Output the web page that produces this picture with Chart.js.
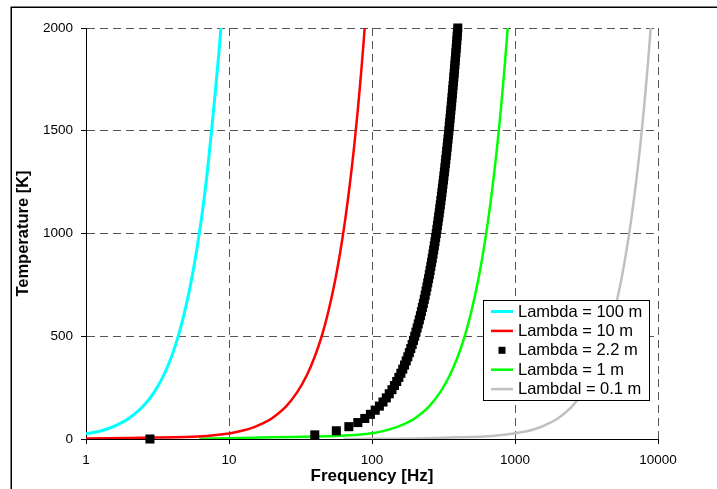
<!DOCTYPE html>
<html>
<head>
<meta charset="utf-8">
<title>Temperature vs Frequency</title>
<script src="https://cdn.jsdelivr.net/npm/chart.js@4.4.0/dist/chart.umd.min.js"></script>
<style>
    html, body { margin: 0; padding: 0; background: #ffffff; }
    #chart { display: block; }
</style>
</head>
<body>
<canvas id="chart" width="717" height="489"></canvas>
<script>
// Temperature vs frequency curves for several wavelengths (log frequency axis)

// Axis ticks
const freqTicks = [1, 10, 100, 1000, 10000];
const tempTicks = [0, 500, 1000, 1500, 2000];

// Lambda = 100 m
const lambda100Freq = [1, 1.25, 1.5, 1.75, 2, 2.5, 3, 3.5, 4, 4.5, 5, 5.5, 6, 6.5, 7, 7.5, 8, 8.5, 8.78];
const lambda100Temp = [26, 38, 56, 77, 101, 158, 228, 311, 408, 520, 645, 784, 937, 1100, 1280, 1480, 1680, 1880, 2000];

// Lambda = 10 m
const lambda10Freq = [1, 2, 3, 5, 7, 10, 12.5, 15, 17.5, 20, 25, 30, 35, 40, 45, 50, 55, 60, 65, 70, 75, 80, 85, 88.9];
const lambda10Temp = [3, 5, 7, 10, 15, 27, 41, 58, 78, 101, 158, 228, 310, 405, 512, 633, 765, 911, 1069, 1240, 1423, 1619, 1828, 2000];

// Lambda = 2.2 m (measured points)
const lambda22Freq = [
    2.8, 39.8, 56.3, 68.9, 79.6, 89.0, 97.5, 105.3, 112.6, 119.4, 125.9,
    132.0, 137.9, 143.5, 148.9, 154.1, 159.2, 164.1, 168.9, 173.5, 178.0,
    182.4, 186.7, 190.9, 195.0, 199.0, 202.9, 206.8, 210.6, 214.3, 218.0,
    221.6, 225.1, 228.6, 232.1, 235.5, 238.8, 242.1, 245.3, 248.6, 251.7,
    254.8, 257.9, 261.0, 264.0, 267.0, 269.9, 272.9, 275.7, 278.6, 281.4,
    284.2, 287.0, 289.7, 292.5, 295.2, 297.8, 300.5, 303.1, 305.7, 308.3,
    310.8, 313.4, 315.9, 318.4, 320.9, 323.3, 325.8, 328.2, 330.6, 333.0,
    335.4, 337.7, 340.1, 342.4, 344.7, 347.0, 349.2, 351.5, 353.8, 356.0,
    358.2, 360.4, 362.6, 364.8, 366.9, 369.1, 371.2, 373.4, 375.5, 377.6,
    379.7, 381.7, 383.8, 385.9, 387.9, 390.0, 392.0, 394.0, 396.0, 398.0
];
const lambda22Temp = [
    0, 20, 40, 60, 80, 100, 120, 140, 160, 180, 200,
    220, 240, 260, 280, 300, 320, 340, 360, 380, 400,
    420, 440, 460, 480, 500, 520, 540, 560, 580, 600,
    620, 640, 660, 680, 700, 720, 740, 760, 780, 800,
    820, 840, 860, 880, 900, 920, 940, 960, 980, 1000,
    1020, 1040, 1060, 1080, 1100, 1120, 1140, 1160, 1180, 1200,
    1220, 1240, 1260, 1280, 1300, 1320, 1340, 1360, 1380, 1400,
    1420, 1440, 1460, 1480, 1500, 1520, 1540, 1560, 1580, 1600,
    1620, 1640, 1660, 1680, 1700, 1720, 1740, 1760, 1780, 1800,
    1820, 1840, 1860, 1880, 1900, 1920, 1940, 1960, 1980, 2000
];

// Lambda = 1 m
const lambda1Freq = [6.2, 10, 20, 40, 60, 80, 100, 125, 150, 175, 200, 250, 300, 350, 400, 450, 500, 550, 600, 650, 700, 750, 800, 850, 889];
const lambda1Temp = [1, 4, 8, 12, 16, 21, 28, 42, 59, 78, 101, 158, 228, 310, 405, 512, 633, 765, 911, 1069, 1240, 1423, 1619, 1828, 2000];

// Lambda = 0.1 m
const lambda01Freq = [63, 100, 200, 400, 700, 1000, 1250, 1500, 1750, 2000, 2500, 3000, 3500, 4000, 4500, 5000, 5500, 6000, 6500, 7000, 7500, 8000, 8500, 8890];
const lambda01Temp = [0, 1, 3, 8, 15, 28, 40, 57, 78, 101, 158, 228, 310, 405, 512, 633, 765, 911, 1069, 1240, 1423, 1619, 1828, 2000];

const seriesLabels = ['Lambda = 100 m', 'Lambda = 10 m', 'Lambda = 2.2 m', 'Lambda = 1 m', 'Lambdal = 0.1 m'];

function toPoints(xs, ys) {
    return xs.map((x, i) => ({ x: x, y: ys[i] }));
}

const fontFamily = '"Liberation Sans", Arial, Helvetica, sans-serif';

// Outer frame around the whole chart
const framePlugin = {
    id: 'frame',
    afterDraw(chart) {
        const ctx = chart.ctx;
        ctx.save();
        ctx.strokeStyle = '#000000';
        ctx.lineWidth = 1.5;
        ctx.strokeRect(11.25, 7.25, 900, 700);
        ctx.restore();
    }
};

// Boxed legend placed inside the plot area (lower right)
const boxLegendPlugin = {
    id: 'boxLegend',
    afterDraw(chart) {
        const ctx = chart.ctx;
        const left = 483.5, top = 300.5, width = 166, height = 100;
        const rowStart = 311.5, rowStep = 19.4;
        ctx.save();
        ctx.fillStyle = '#ffffff';
        ctx.fillRect(left, top, width, height);
        ctx.strokeStyle = '#000000';
        ctx.lineWidth = 1;
        ctx.strokeRect(left, top, width, height);
        ctx.font = '16.5px ' + fontFamily;
        ctx.textBaseline = 'middle';
        ctx.textAlign = 'left';
        chart.data.datasets.forEach((ds, i) => {
            const y = rowStart + i * rowStep;
            if (ds.showLine) {
                ctx.strokeStyle = ds.borderColor;
                ctx.lineWidth = ds.borderWidth;
                ctx.beginPath();
                ctx.moveTo(491, y);
                ctx.lineTo(513, y);
                ctx.stroke();
            } else {
                ctx.fillStyle = ds.backgroundColor;
                ctx.fillRect(498.5, y - 3.5, 7, 7);
            }
            ctx.fillStyle = '#000000';
            ctx.fillText(ds.label, 518, y + 0.5);
        });
        ctx.restore();
    }
};

const ctx = document.getElementById('chart').getContext('2d');

new Chart(ctx, {
    type: 'scatter',
    data: {
        datasets: [
            {
                label: seriesLabels[0],
                data: toPoints(lambda100Freq, lambda100Temp),
                showLine: true,
                borderColor: '#00FFFF',
                backgroundColor: '#00FFFF',
                borderWidth: 3,
                pointRadius: 0,
                tension: 0.3,
                order: 1
            },
            {
                label: seriesLabels[1],
                data: toPoints(lambda10Freq, lambda10Temp),
                showLine: true,
                borderColor: '#FF0000',
                backgroundColor: '#FF0000',
                borderWidth: 2.5,
                pointRadius: 0,
                tension: 0.3,
                order: 2
            },
            {
                label: seriesLabels[2],
                data: toPoints(lambda22Freq, lambda22Temp),
                showLine: false,
                backgroundColor: '#000000',
                borderColor: '#000000',
                borderWidth: 0,
                pointStyle: 'rect',
                pointRadius: 6.4,
                pointHoverRadius: 6.4,
                clip: false,
                order: 0
            },
            {
                label: seriesLabels[3],
                data: toPoints(lambda1Freq, lambda1Temp),
                showLine: true,
                borderColor: '#00FF00',
                backgroundColor: '#00FF00',
                borderWidth: 2.5,
                pointRadius: 0,
                tension: 0.3,
                order: 3
            },
            {
                label: seriesLabels[4],
                data: toPoints(lambda01Freq, lambda01Temp),
                showLine: true,
                borderColor: '#C0C0C0',
                backgroundColor: '#C0C0C0',
                borderWidth: 2.5,
                pointRadius: 0,
                tension: 0.3,
                order: 4
            }
        ]
    },
    options: {
        responsive: false,
        animation: false,
        devicePixelRatio: 1,
        layout: {
            padding: { top: 28, right: 59, bottom: 0, left: 0 }
        },
        plugins: {
            legend: { display: false },
            tooltip: { enabled: false }
        },
        scales: {
            x: {
                type: 'logarithmic',
                position: 'bottom',
                min: freqTicks[0],
                max: freqTicks[freqTicks.length - 1],
                afterBuildTicks: (axis) => {
                    axis.ticks = freqTicks.map(v => ({ value: v }));
                },
                afterFit: (axis) => {
                    axis.height = 50;
                },
                ticks: {
                    autoSkip: false,
                    maxRotation: 0,
                    padding: 8,
                    color: '#000000',
                    font: { family: fontFamily, size: 13.5 },
                    callback: (value) => String(value)
                },
                grid: {
                    color: '#555555',
                    lineWidth: 1,
                    tickLength: 5,
                    tickColor: '#000000'
                },
                border: {
                    display: true,
                    color: '#000000',
                    width: 1,
                    dash: [8, 5]
                },
                title: {
                    display: true,
                    text: 'Frequency [Hz]',
                    color: '#000000',
                    font: { family: fontFamily, size: 17, weight: 'bold' },
                    padding: { top: 0, bottom: 2 }
                }
            },
            y: {
                type: 'linear',
                position: 'left',
                min: tempTicks[0],
                max: tempTicks[tempTicks.length - 1],
                afterBuildTicks: (axis) => {
                    axis.ticks = tempTicks.map(v => ({ value: v }));
                },
                afterFit: (axis) => {
                    axis.width = 86;
                },
                ticks: {
                    padding: 8,
                    color: '#000000',
                    font: { family: fontFamily, size: 13.5 },
                    callback: (value) => String(value)
                },
                grid: {
                    color: '#555555',
                    lineWidth: 1,
                    tickLength: 5,
                    tickColor: '#000000'
                },
                border: {
                    display: true,
                    color: '#000000',
                    width: 1,
                    dash: [8, 5]
                },
                title: {
                    display: true,
                    text: 'Temperature [K]',
                    color: '#000000',
                    font: { family: fontFamily, size: 16.5, weight: 'bold' },
                    padding: { top: 14, bottom: 0 }
                }
            }
        }
    },
    plugins: [framePlugin, boxLegendPlugin]
});
</script>
</body>
</html>
